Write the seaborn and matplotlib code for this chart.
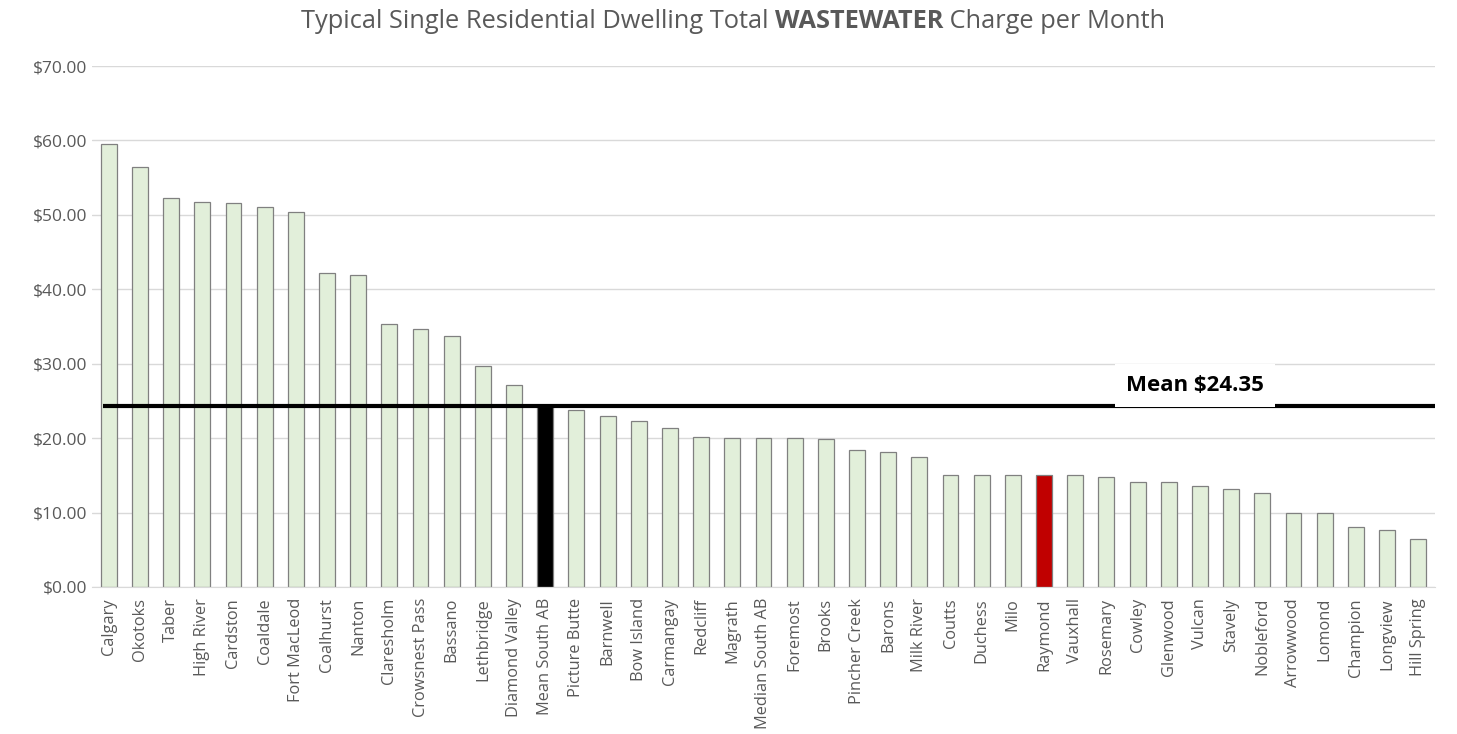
import matplotlib
matplotlib.use("Agg")
import matplotlib.pyplot as plt
import seaborn as sns
from matplotlib.ticker import FuncFormatter

towns = ["Calgary", "Okotoks", "Taber", "High River", "Cardston", "Coaldale",
         "Fort MacLeod", "Coalhurst", "Nanton", "Claresholm", "Crowsnest Pass",
         "Bassano", "Lethbridge", "Diamond Valley", "Mean South AB", "Picture Butte",
         "Barnwell", "Bow Island", "Carmangay", "Redcliff", "Magrath",
         "Median South AB", "Foremost", "Brooks", "Pincher Creek", "Barons",
         "Milk River", "Coutts", "Duchess", "Milo", "Raymond", "Vauxhall",
         "Rosemary", "Cowley", "Glenwood", "Vulcan", "Stavely", "Nobleford",
         "Arrowwood", "Lomond", "Champion", "Longview", "Hill Spring"]
charges = [59.5, 56.4, 52.3, 51.7, 51.65, 51.0,
           50.4, 42.2, 41.9, 35.3, 34.6,
           33.7, 29.7, 27.1, 24.35, 23.8,
           23.0, 22.3, 21.3, 20.15, 20.05,
           20.0, 19.98, 19.9, 18.4, 18.1,
           17.5, 15.0, 15.0, 15.0, 15.0, 15.0,
           14.8, 14.05, 14.05, 13.6, 13.1, 12.6,
           10.0, 10.0, 8.05, 7.7, 6.45]
mean_value = 24.35
highlight = {"Mean South AB": "#000000", "Raymond": "#C00000"}

sns.set_style("white")
plt.rcParams["font.family"] = ["Open Sans", "DejaVu Sans"]

fig = plt.figure(figsize=(14.57, 7.34), dpi=100)
ax = fig.add_axes([0.063, 0.2003, 0.922, 0.7097])

palette = {t: highlight.get(t, "#E2EFDA") for t in towns}
sns.barplot(x=towns, y=charges, hue=towns, palette=palette, legend=False,
            width=0.51, edgecolor="#808080", linewidth=0.9, saturation=1, ax=ax)

n = len(towns)
ax.set_ylim(0, 70)
ax.set_xlim(-0.545, n - 0.455)
ax.set_yticks(range(0, 71, 10))
ax.yaxis.set_major_formatter(FuncFormatter(lambda v, p: f"${v:.2f}"))
ax.grid(axis="y", color="#D9D9D9", linewidth=1)
ax.set_axisbelow(True)
for s in ["top", "right", "left"]:
    ax.spines[s].set_visible(False)
ax.spines["bottom"].set_color("#D9D9D9")
ax.tick_params(axis="both", length=0, colors="#595959")
ax.tick_params(axis="x", rotation=90, pad=8, labelsize=11.8)
ax.tick_params(axis="y", pad=3, labelsize=12.5)

# mean line
ax.hlines(mean_value, -0.2, n - 0.455, color="black", linewidth=3, zorder=5)
ax.text(34.85, mean_value + 1.3, f"Mean ${mean_value:.2f}", fontsize=16,
        fontweight="bold", ha="center", va="bottom", color="black",
        bbox=dict(facecolor="white", edgecolor="none", pad=8), zorder=6)

# title with one bold word
parts = [("Typical Single Residential Dwelling Total ", "normal"),
         ("WASTEWATER", "bold"), (" Charge per Month", "normal")]
renderer = fig.canvas.get_renderer()
texts = []
for txt, w in parts:
    t = fig.text(0, 0.971, txt, fontsize=18.3, fontweight=w, color="#595959",
                 ha="left", va="center")
    texts.append(t)
widths = [t.get_window_extent(renderer).width for t in texts]
total = sum(widths)
x = (733 - total / 2)
for t, wd in zip(texts, widths):
    t.set_x(x / fig.bbox.width)
    x += wd

fig.savefig("out.png", dpi=100)
